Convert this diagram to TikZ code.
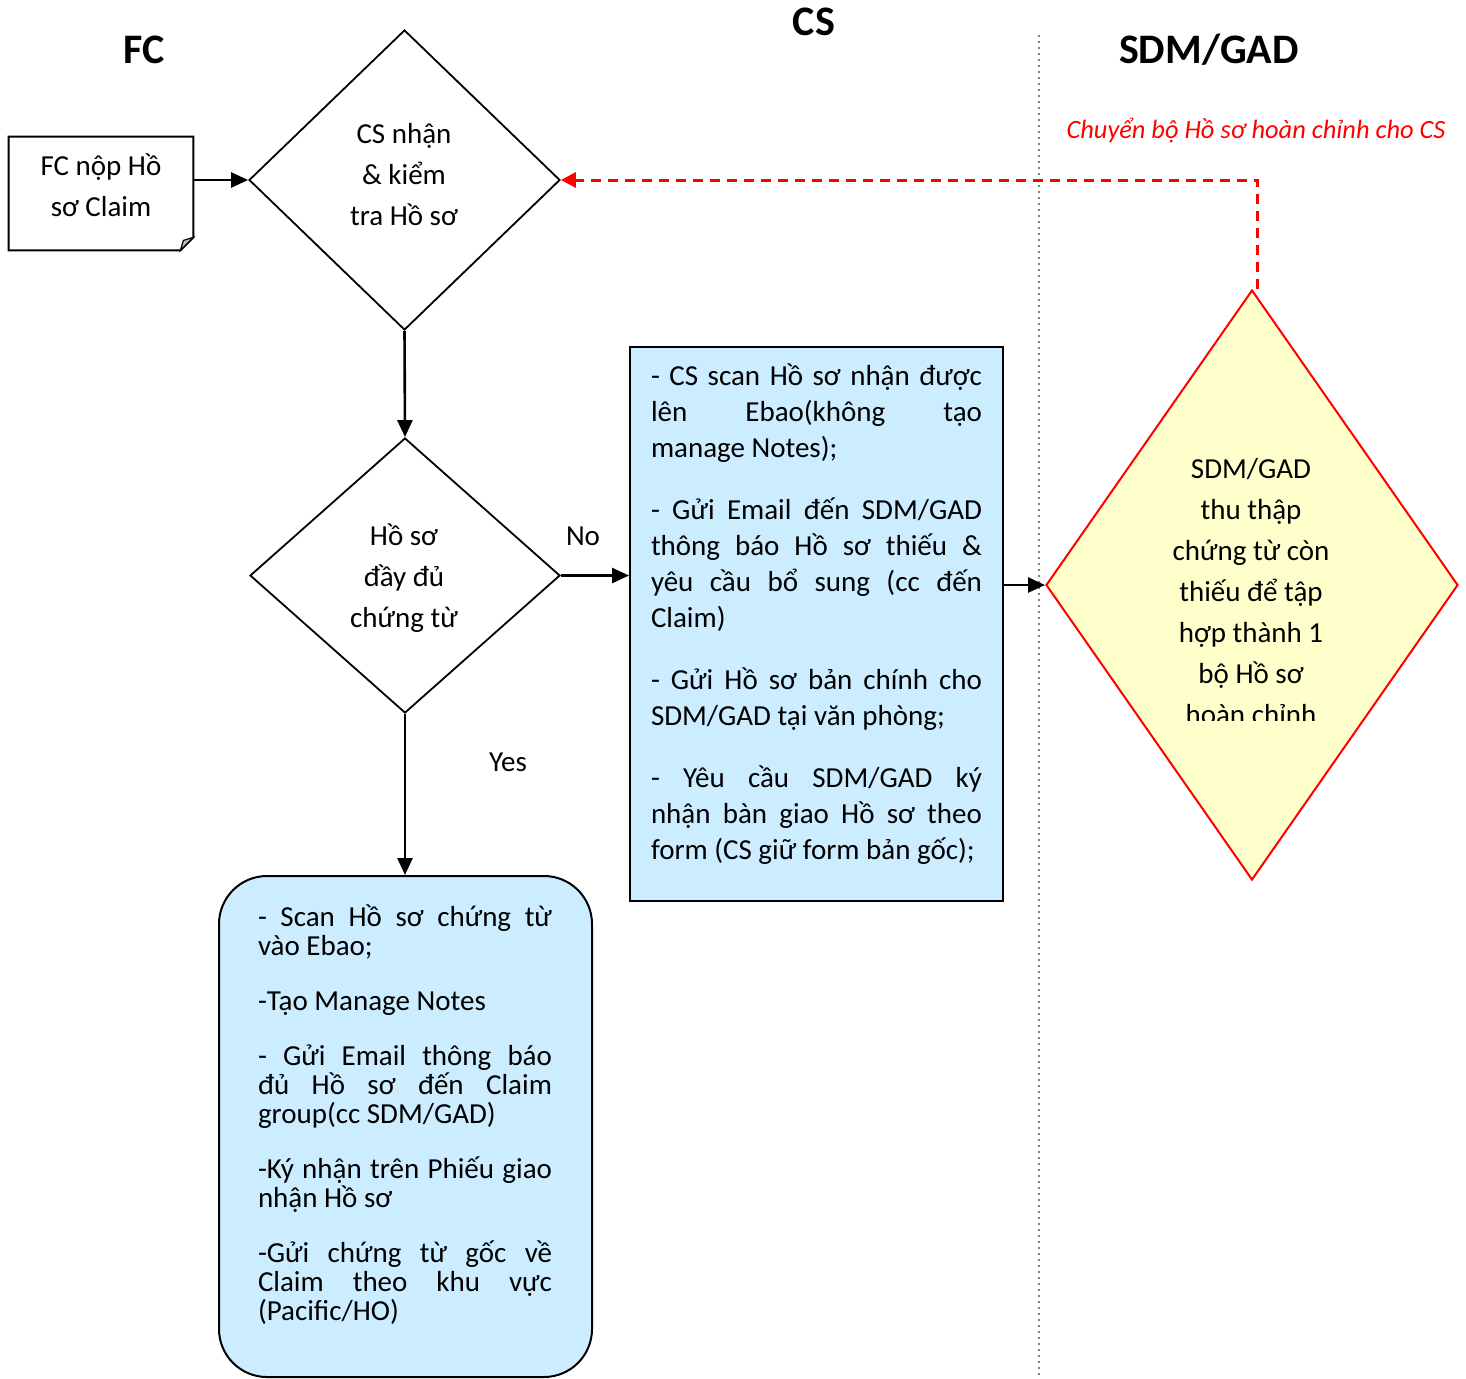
\documentclass[tikz,border=0pt]{standalone}
\usepackage{fontspec}
\setmainfont{Carlito}
\usepackage{tikz}
\usetikzlibrary{shapes.geometric,arrows.meta}

\definecolor{boxblue}{RGB}{204,236,255}
\definecolor{boxyellow}{RGB}{255,255,204}
\setlength{\parindent}{0pt}

\tikzset{
  title/.style={font=\fontsize{21}{25}\selectfont\bfseries},
  body/.style={font=\fontsize{14.5}{20.5}\selectfont, align=center},
  decide/.style={diamond, draw, line width=0.9pt},
  arr/.style={-{Triangle[length=8.5pt,width=7.5pt]}, line width=1.3pt},
  back/.style={-{Triangle[length=7.5pt,width=7.5pt]}, red, line width=1.5pt, dash pattern=on 5pt off 3.5pt}
}

\begin{document}
\begin{tikzpicture}[x=0.5pt, y=-0.5pt]
	\useasboundingbox (0,0) rectangle (1466,1378);
	% lane titles
	\node[title] (fctitle) at (144,50) {FC};
	\node[title] (cstitle) at (814,22) {CS};
	\node[title] (sdmtitle) at (1209,50) {SDM/GAD};
	\draw[gray, dotted, line width=1pt] (1039,35) -- (1039,1378);

	% FC
	\node[minimum width=92pt, minimum height=56.5pt] (fc) at (101,193.5) {};
	\node[body] (fctxt) at (101,185) {FC nộp Hồ\\sơ Claim};
	\draw[line width=1pt] (fc.north west) -- (fc.north east) -- ([yshift=6.5pt]fc.south east)
		-- ([xshift=-6.5pt]fc.south east) -- (fc.south west) -- cycle;
	\draw[fill=black!25, line width=0.6pt] ([yshift=6.5pt]fc.south east) -- ([xshift=-6.5pt]fc.south east)
		-- ([xshift=-5pt,yshift=5pt]fc.south east) -- cycle;

	% CS
	\node[decide, minimum width=155.5pt, minimum height=150pt] (chk) at (404.5,180) {};
	\node[body] (chktxt) at (404,175) {CS nhận\\\& kiểm\\tra Hồ sơ};
	\node[decide, minimum width=155pt, minimum height=137.5pt] (dd) at (405,575.5) {};
	\node[body] (ddtxt) at (404,578.5) {Hồ sơ\\đầy đủ\\chứng từ};
	\node[draw, fill=boxblue, line width=1pt, minimum width=186.5pt, minimum height=277pt] (cs) at (816.5,624) {};
	\node[font=\fontsize{14.5}{18}\selectfont, text width=165.5pt, align=justify, inner sep=0pt] (cstxt) at (816.5,614) {%
		- CS scan Hồ sơ nhận được\linebreak lên Ebao(không tạo\linebreak manage Notes);\par\vspace{13pt}
		- Gửi Email đến SDM/GAD\linebreak thông báo Hồ sơ thiếu \&\linebreak yêu cầu bổ sung (cc đến\linebreak Claim)\par\vspace{13pt}
		- Gửi Hồ sơ bản chính cho\linebreak SDM/GAD tại văn phòng;\par\vspace{13pt}
		- Yêu cầu SDM/GAD ký\linebreak nhận bàn giao Hồ sơ theo\linebreak form (CS giữ form bản gốc);};
	\node[draw, fill=boxblue, line width=1pt, rounded corners=24pt, minimum width=186.5pt, minimum height=250.5pt] (scan) at (405.5,1126.5) {};
	\node[font=\fontsize{14.5}{14.5}\selectfont, text width=147pt, align=justify, inner sep=0pt] (scantxt) at (405,1115) {%
		- Scan Hồ sơ chứng từ\linebreak vào Ebao;\par\vspace{13pt}
		-Tạo Manage Notes\par\vspace{13pt}
		- Gửi Email thông báo\linebreak đủ Hồ sơ đến Claim\linebreak group(cc SDM/GAD)\par\vspace{13pt}
		-Ký nhận trên Phiếu giao\linebreak nhận Hồ sơ\par\vspace{13pt}
		-Gửi chứng từ gốc về\linebreak Claim theo khu vực\linebreak (Pacific/HO)};

	% SDM/GAD
	\node[decide, draw=red, fill=boxyellow, line width=1pt, minimum width=206pt, minimum height=295pt] (sdm) at (1252,585) {};
	\begin{scope}
		\clip (1040,420) rectangle (1460,720);
		\node[body] (sdmtxt) at (1251,591.5) {SDM/GAD\\thu thập\\chứng từ còn\\thiếu để tập\\hợp thành 1\\bộ Hồ sơ\\hoàn chỉnh};
	\end{scope}
	\node[font=\fontsize{13.2}{15}\selectfont\itshape, text=red] (note) at (1256,131) {Chuyển bộ Hồ sơ hoàn chỉnh cho CS};

	% connectors
	\draw[arr] (fc.east |- chk.west) -- (chk.west);
	\draw[arr] (chk.south) -- (dd.north);
	\draw[arr] (dd.east) -- (dd.east -| cs.west);
	\node[body] (no) at (583,536) {No};
	\draw[arr] (dd.south) -- (dd.south |- scan.north);
	\node[body] (yes) at (508,762) {Yes};
	\draw[arr] (cs.east |- sdm.west) -- (sdm.west);
	\draw[back] ([xshift=2.5pt]sdm.north) |- (chk.east);
\end{tikzpicture}
\end{document}
